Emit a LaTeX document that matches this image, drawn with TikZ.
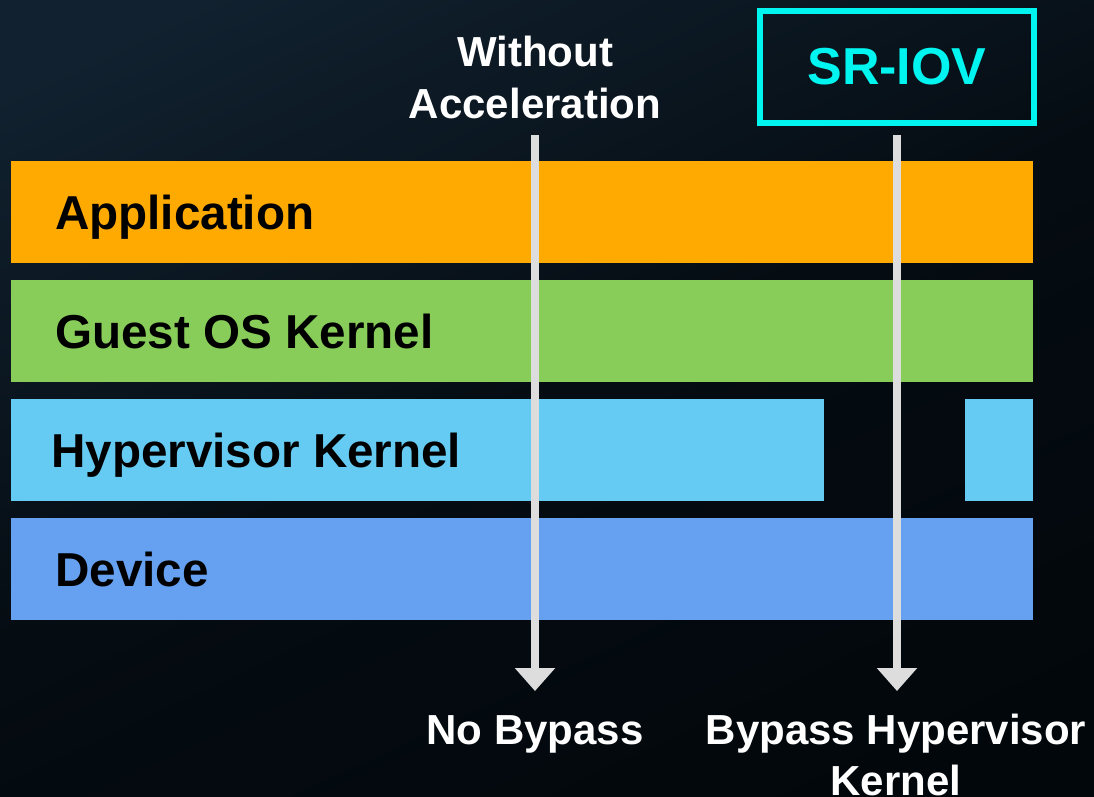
\documentclass[tikz,border=0pt]{standalone}
\usepackage{fontspec}
\setmainfont{Liberation Sans}
\usetikzlibrary{arrows.meta}
\definecolor{bgtop}{HTML}{11212F}
\definecolor{bgbot}{HTML}{02070B}
\definecolor{appc}{HTML}{FFAA00}
\definecolor{guestc}{HTML}{88CC5A}
\definecolor{hypc}{HTML}{66CBF2}
\definecolor{devc}{HTML}{66A0F0}
\definecolor{cyanc}{HTML}{00F5F0}
\definecolor{arrc}{HTML}{DDDDDD}
\tikzset{
  bar/.style={rectangle, draw=none, inner sep=0pt, anchor=north west, minimum height=102pt},
  barlabel/.style={anchor=base west, inner sep=0pt, font=\fontsize{47.6}{56}\selectfont\bfseries, text=black},
  toplabel/.style={anchor=base, inner sep=0pt, font=\fontsize{42}{52}\selectfont\bfseries, text=white, align=center},
  flow/.style={draw=arrc, line width=8pt, -{Triangle[width=39pt,length=23pt]}}
}
\begin{document}
\begin{tikzpicture}[x=1pt,y=-1pt]
\useasboundingbox (0,0) rectangle (1094,796);
\shade[top color=bgtop, bottom color=bgbot, middle color=bgbot!80!bgtop, shading angle=25] (-60,-60) rectangle (1154,856);
% layers
\node[bar, fill=appc, minimum width=1022pt] (app) at (11,161) {};
\node[bar, fill=guestc, minimum width=1022pt] (guest) at (11,280) {};
\node[bar, fill=hypc, minimum width=813pt] (hypl) at (11,399) {};
\node[bar, fill=hypc, minimum width=68pt] (hypr) at (965,399) {};
\node[bar, fill=devc, minimum width=1022pt] (dev) at (11,518) {};
\node[barlabel] (applbl) at (55,229) {Application};
\node[barlabel] (guestlbl) at (55,348) {Guest OS Kernel};
\node[barlabel] (hyplbl) at (51,467) {Hypervisor Kernel};
\node[barlabel] (devlbl) at (55,586) {Device};
% SR-IOV box
\node[draw=cyanc, line width=6pt, minimum width=274pt, minimum height=112pt, inner sep=0pt,
      text=cyanc, font=\fontsize{52}{60}\selectfont\bfseries] (sriov) at (897,67) {SR-IOV};
% top label
\node[toplabel] (wo1) at (535,66) {Without};
\node[toplabel] (wo2) at (535,118) {Acceleration};
% bottom labels
\node[toplabel] (nb) at (535,744) {No Bypass};
\node[toplabel] (bh1) at (896,744) {Bypass Hypervisor};
\node[toplabel] (bh2) at (896,795) {Kernel};
% arrows
\coordinate (a1s) at (535,135);
\coordinate (a1e) at (535,691);
\coordinate (a2s) at (897,135);
\coordinate (a2e) at (897,691);
\draw[flow] (a1s) -- (a1e);
\draw[flow] (a2s) -- (a2e);
\end{tikzpicture}
\end{document}
